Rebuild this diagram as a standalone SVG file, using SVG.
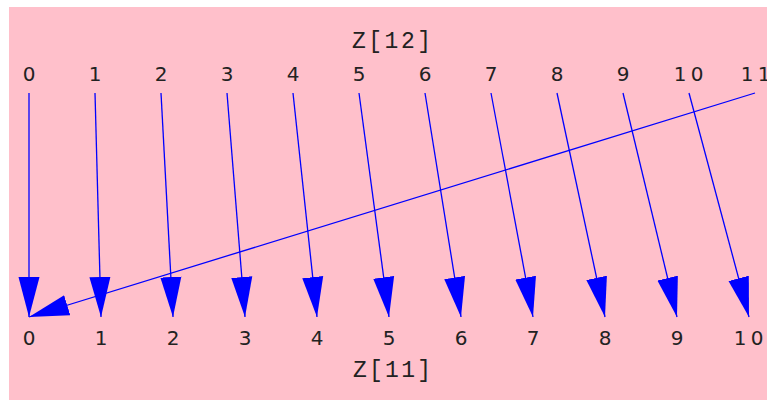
<svg xmlns="http://www.w3.org/2000/svg" width="767" height="400" viewBox="0 0 767 400">
<style>
.lbl{font-family:"DejaVu Sans",sans-serif;font-size:20px;fill:#222;text-anchor:middle}
.ttl{font-family:"Liberation Mono",monospace;font-size:23px;fill:#222}
.edge{stroke:#0000ff;stroke-width:1.3;fill:none;marker-end:url(#ah)}
</style>
<defs>
<marker id="ah" markerUnits="userSpaceOnUse" markerWidth="40" markerHeight="22" viewBox="0 0 38 20" refX="38" refY="10" orient="auto">
<path d="M0,0 L38,10 L0,20 Z" fill="#0000ff"/>
</marker>
</defs>
<rect x="9" y="7" width="758" height="393" fill="#ffc0cb"/>
<g id="top">
<text class="ttl" x="352" y="48" textLength="79" lengthAdjust="spacing">Z[12]</text>
<text class="lbl" x="29" y="81">0</text>
<text class="lbl" x="95" y="81">1</text>
<text class="lbl" x="161" y="81">2</text>
<text class="lbl" x="227" y="81">3</text>
<text class="lbl" x="293" y="81">4</text>
<text class="lbl" x="359" y="81">5</text>
<text class="lbl" x="425" y="81">6</text>
<text class="lbl" x="491" y="81">7</text>
<text class="lbl" x="557" y="81">8</text>
<text class="lbl" x="623" y="81">9</text>
<text class="lbl" x="680 697" y="81">10</text>
<text class="lbl" x="747 764" y="81">11</text>
</g>
<g id="bottom">
<text class="ttl" x="353" y="377" textLength="78" lengthAdjust="spacing">Z[11]</text>
<text class="lbl" x="29" y="345">0</text>
<text class="lbl" x="101" y="345">1</text>
<text class="lbl" x="173" y="345">2</text>
<text class="lbl" x="245" y="345">3</text>
<text class="lbl" x="317" y="345">4</text>
<text class="lbl" x="389" y="345">5</text>
<text class="lbl" x="461" y="345">6</text>
<text class="lbl" x="533" y="345">7</text>
<text class="lbl" x="605" y="345">8</text>
<text class="lbl" x="677" y="345">9</text>
<text class="lbl" x="740 757" y="345">10</text>
</g>
<g id="connectors">
<line class="edge" x1="29" y1="93" x2="29" y2="317"/>
<line class="edge" x1="95" y1="93" x2="101" y2="317"/>
<line class="edge" x1="161" y1="93" x2="173" y2="317"/>
<line class="edge" x1="227" y1="93" x2="245" y2="317"/>
<line class="edge" x1="293" y1="93" x2="317" y2="317"/>
<line class="edge" x1="359" y1="93" x2="389" y2="317"/>
<line class="edge" x1="425" y1="93" x2="461" y2="317"/>
<line class="edge" x1="491" y1="93" x2="533" y2="317"/>
<line class="edge" x1="557" y1="93" x2="605" y2="317"/>
<line class="edge" x1="623" y1="93" x2="677" y2="317"/>
<line class="edge" x1="689" y1="93" x2="749" y2="317"/>
<line class="edge" x1="755" y1="93" x2="29" y2="317"/>
</g>
</svg>
